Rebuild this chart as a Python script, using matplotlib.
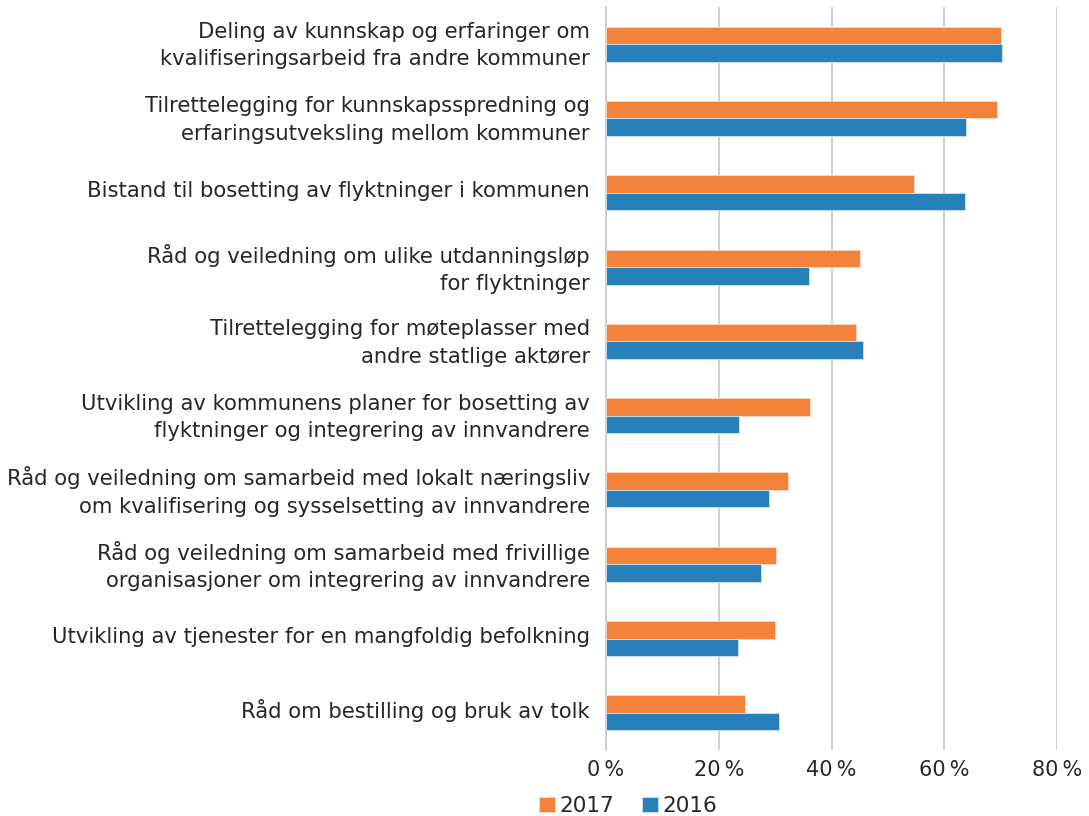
import matplotlib
matplotlib.use("Agg")
import matplotlib.pyplot as plt
import matplotlib.transforms as mtransforms
import numpy as np

categories = [
    "Deling av kunnskap og erfaringer om\nkvalifiseringsarbeid fra andre kommuner",
    "Tilrettelegging for kunnskapsspredning og\nerfaringsutveksling mellom kommuner",
    "Bistand til bosetting av flyktninger i kommunen",
    "Råd og veiledning om ulike utdanningsløp\nfor flyktninger",
    "Tilrettelegging for møteplasser med\nandre statlige aktører",
    "Utvikling av kommunens planer for bosetting av\nflyktninger og integrering av innvandrere",
    "Råd og veiledning om samarbeid med lokalt næringsliv\nom kvalifisering og sysselsetting av innvandrere",
    "Råd og veiledning om samarbeid med frivillige\norganisasjoner om integrering av innvandrere",
    "Utvikling av tjenester for en mangfoldig befolkning",
    "Råd om bestilling og bruk av tolk",
]
values_2017 = [70.1, 69.4, 54.6, 45.0, 44.4, 36.2, 32.2, 30.1, 29.9, 24.7]
values_2016 = [70.2, 63.9, 63.6, 36.0, 45.5, 23.6, 29.0, 27.5, 23.5, 30.6]
xticks = [0, 20, 40, 60, 80]
xtick_labels = ["0\u2009%", "20\u2009%", "40\u2009%", "60\u2009%", "80\u2009%"]

c2017 = "#F3833B"
c2016 = "#2880BA"
text_color = "#262626"

fig = plt.figure(figsize=(10.89, 8.16), dpi=100)
ax = fig.add_axes([606 / 1089, 1 - 750 / 816, (1057 - 606) / 1089, (750 - 7) / 816])

y = np.arange(len(categories))
h = 0.235
ax.barh(y - h / 2, values_2017, height=h, color=c2017, edgecolor="#FBD9C2", linewidth=0.6, label="2017", zorder=3)
ax.barh(y + h / 2, values_2016, height=h, color=c2016, edgecolor="#CFE3F1", linewidth=0.6, label="2016", zorder=3)

ax.set_ylim(len(categories) - 0.5, -0.5)
ax.set_xlim(0, 80)
ax.set_yticks(y)
ax.set_yticklabels([])
ax.tick_params(axis="y", length=0)

# category labels, drawn as text anchored to the category positions
ytrans = mtransforms.blended_transform_factory(ax.transAxes, ax.transData)
shift = mtransforms.ScaledTranslation(-16 / 100, 4 / 100, fig.dpi_scale_trans)
for yi, cat in zip(y, categories):
    ax.text(0, yi, cat, transform=ytrans + shift, ha="right", va="center_baseline",
            fontsize=15.2, color=text_color, linespacing=1.45, multialignment="right")

ax.set_xticks(xticks)
ax.set_xticklabels(xtick_labels, fontsize=15, color=text_color)
ax.tick_params(axis="x", length=0, pad=7)
ax.grid(axis="x", color="#C8C8C8", linewidth=1.2, zorder=0)
for s in ["top", "right", "bottom"]:
    ax.spines[s].set_visible(False)
ax.spines["left"].set_color("#C8C8C8")
ax.spines["left"].set_linewidth(1.2)

leg = fig.legend(loc="center", bbox_to_anchor=(628 / 1089, 1 - 806 / 816), ncol=2, frameon=False,
                 fontsize=15.5, handlelength=0.75, handleheight=0.75, handletextpad=0.2, columnspacing=1.3,
                 borderaxespad=0)
for t in leg.get_texts():
    t.set_color(text_color)

fig.savefig("out.png", dpi=100)
